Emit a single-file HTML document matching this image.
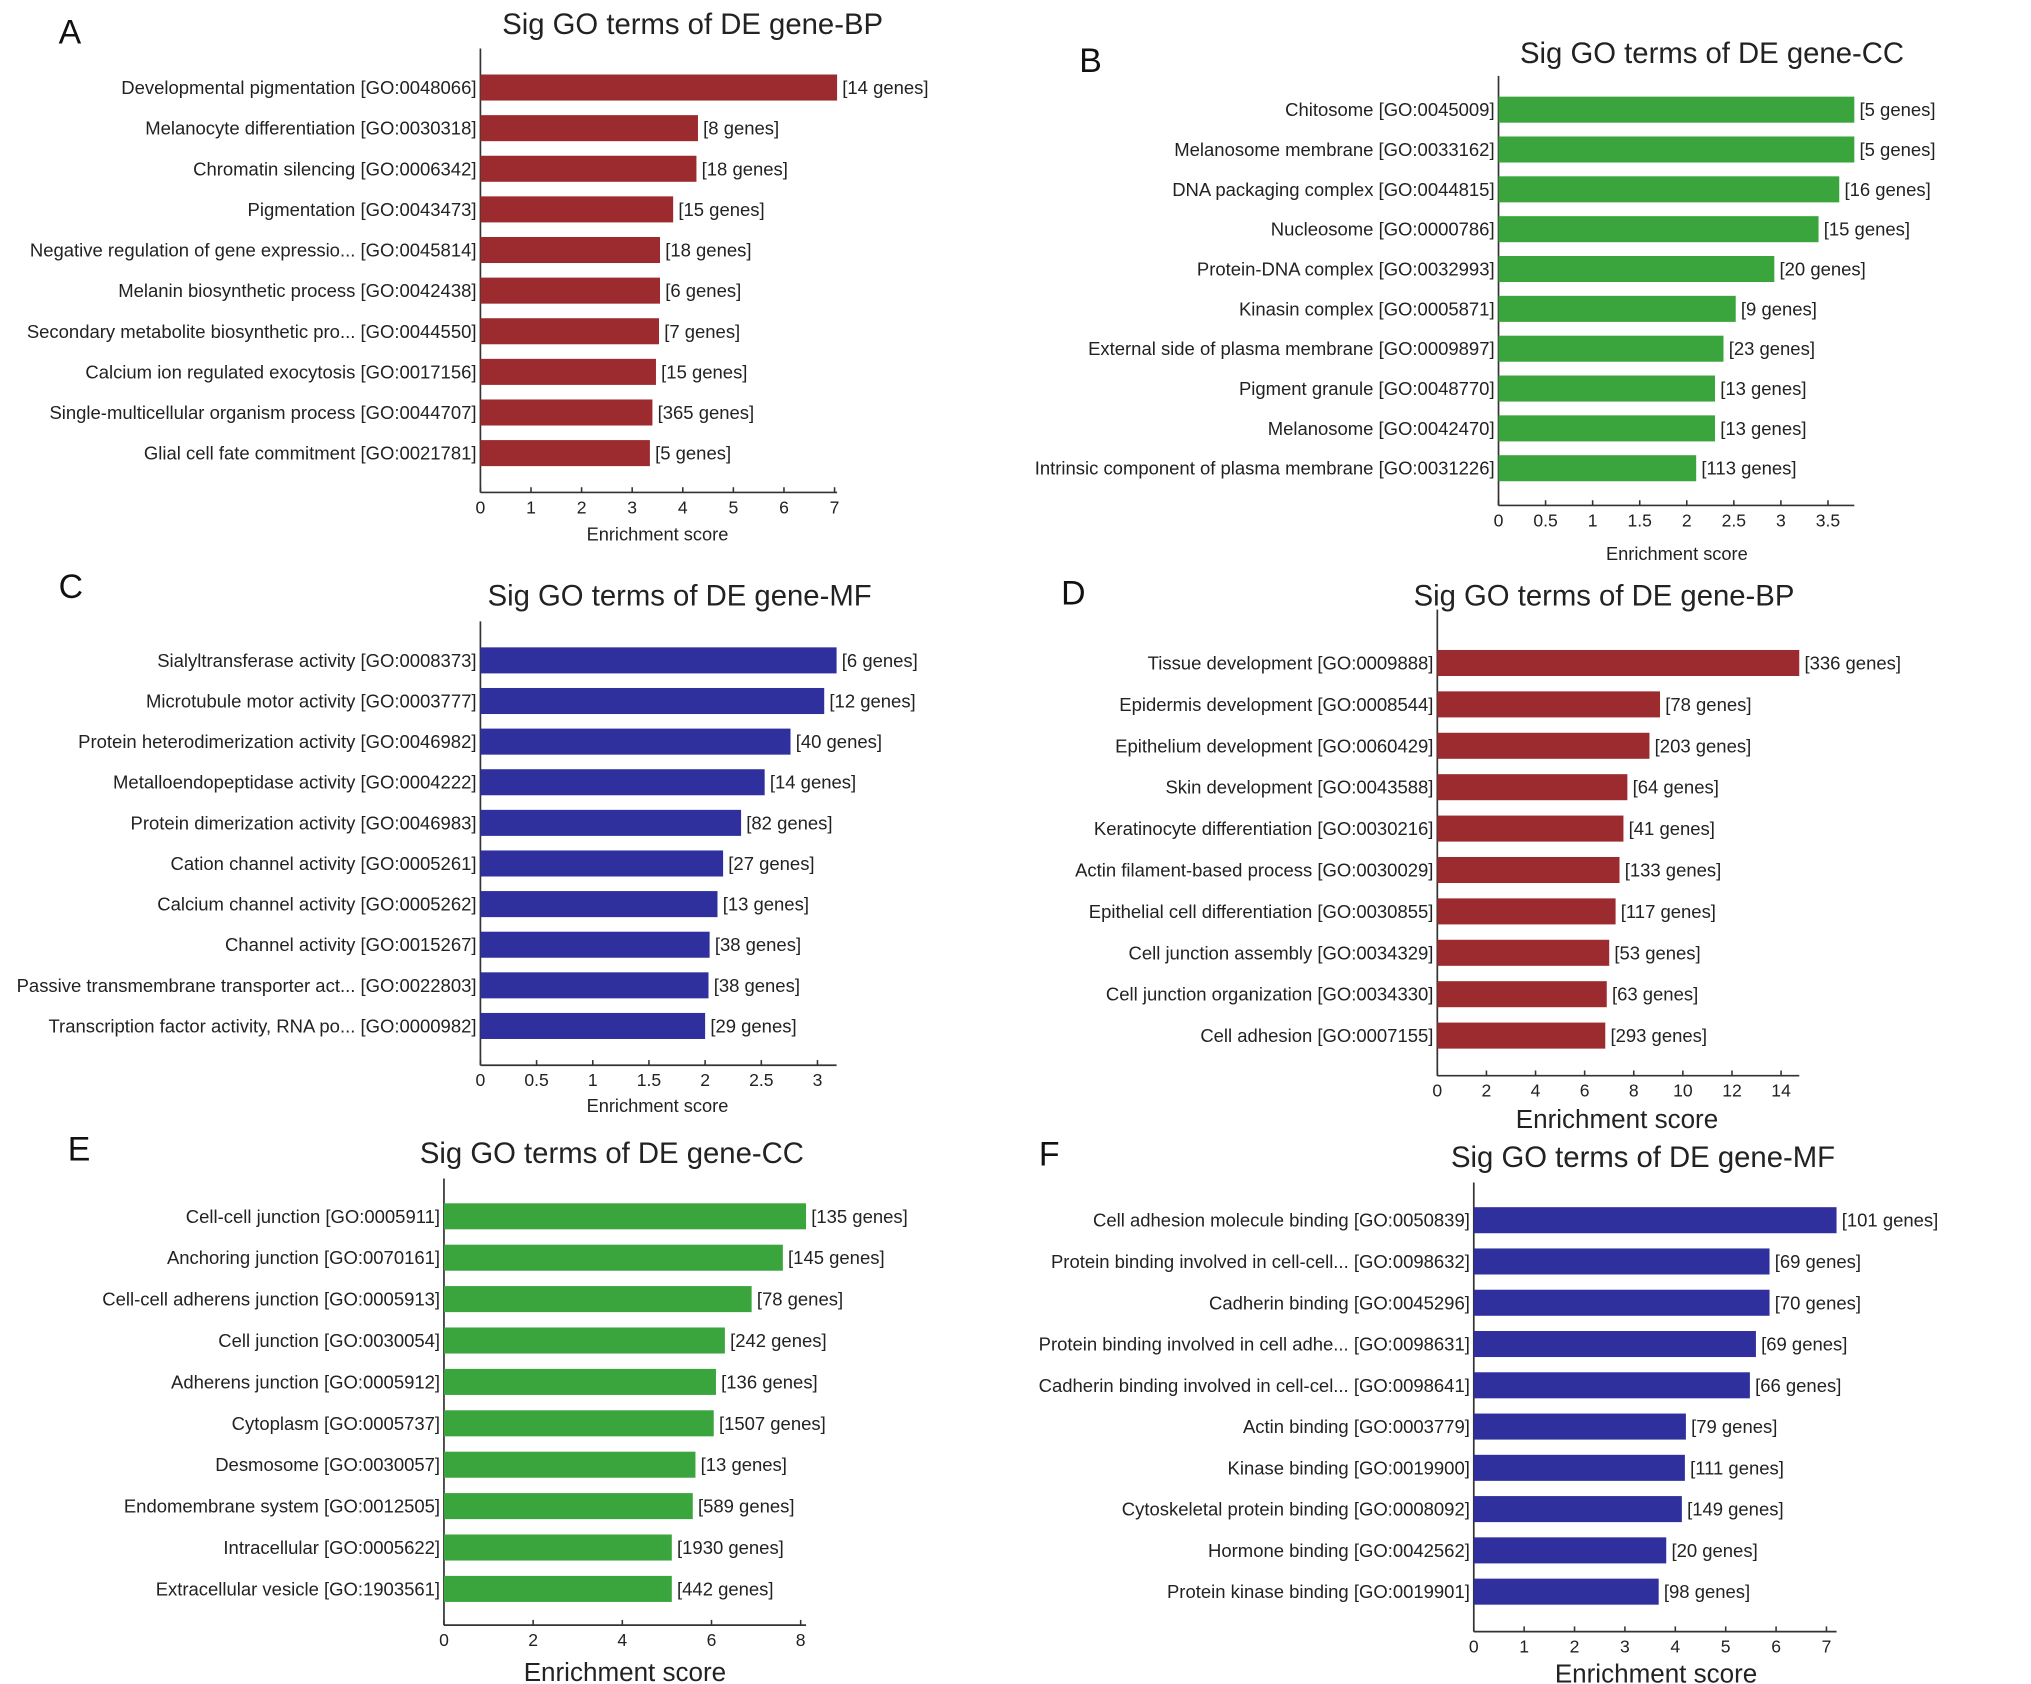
<!DOCTYPE html>
<html><head><meta charset="utf-8"><title>Sig GO terms</title>
<style>
html,body{margin:0;padding:0;background:#fff;}
svg{display:block;font-family:"Liberation Sans",Arial,sans-serif;}
</style></head>
<body>
<svg id="fig" width="2031" height="1684" viewBox="0 0 1560 1293" xmlns="http://www.w3.org/2000/svg">
<rect width="1560" height="1293" fill="#fff"/>
</svg>
<script>
// ---- Panel A data ----
const aTerms = ["Developmental pigmentation [GO:0048066]","Melanocyte differentiation [GO:0030318]","Chromatin silencing [GO:0006342]","Pigmentation [GO:0043473]","Negative regulation of gene expressio... [GO:0045814]","Melanin biosynthetic process [GO:0042438]","Secondary metabolite biosynthetic pro... [GO:0044550]","Calcium ion regulated exocytosis [GO:0017156]","Single-multicellular organism process [GO:0044707]","Glial cell fate commitment [GO:0021781]"];
const aValues = [7.05,4.30,4.27,3.81,3.55,3.55,3.53,3.47,3.40,3.35];
const aGenes = ["[14 genes]","[8 genes]","[18 genes]","[15 genes]","[18 genes]","[6 genes]","[7 genes]","[15 genes]","[365 genes]","[5 genes]"];
const aTicks = [0,1,2,3,4,5,6,7];
// ---- Panel B data ----
const bTerms = ["Chitosome [GO:0045009]","Melanosome membrane [GO:0033162]","DNA packaging complex [GO:0044815]","Nucleosome [GO:0000786]","Protein-DNA complex [GO:0032993]","Kinasin complex [GO:0005871]","External side of plasma membrane [GO:0009897]","Pigment granule [GO:0048770]","Melanosome [GO:0042470]","Intrinsic component of plasma membrane [GO:0031226]"];
const bValues = [3.78,3.78,3.62,3.40,2.93,2.52,2.39,2.30,2.30,2.10];
const bGenes = ["[5 genes]","[5 genes]","[16 genes]","[15 genes]","[20 genes]","[9 genes]","[23 genes]","[13 genes]","[13 genes]","[113 genes]"];
const bTicks = [0,0.5,1,1.5,2,2.5,3,3.5];
// ---- Panel C data ----
const cTerms = ["Sialyltransferase activity [GO:0008373]","Microtubule motor activity [GO:0003777]","Protein heterodimerization activity [GO:0046982]","Metalloendopeptidase activity [GO:0004222]","Protein dimerization activity [GO:0046983]","Cation channel activity [GO:0005261]","Calcium channel activity [GO:0005262]","Channel activity [GO:0015267]","Passive transmembrane transporter act... [GO:0022803]","Transcription factor activity, RNA po... [GO:0000982]"];
const cValues = [3.17,3.06,2.76,2.53,2.32,2.16,2.11,2.04,2.03,2.00];
const cGenes = ["[6 genes]","[12 genes]","[40 genes]","[14 genes]","[82 genes]","[27 genes]","[13 genes]","[38 genes]","[38 genes]","[29 genes]"];
const cTicks = [0,0.5,1,1.5,2,2.5,3];
// ---- Panel D data ----
const dTerms = ["Tissue development [GO:0009888]","Epidermis development [GO:0008544]","Epithelium development [GO:0060429]","Skin development [GO:0043588]","Keratinocyte differentiation [GO:0030216]","Actin filament-based process [GO:0030029]","Epithelial cell differentiation [GO:0030855]","Cell junction assembly [GO:0034329]","Cell junction organization [GO:0034330]","Cell adhesion [GO:0007155]"];
const dValues = [14.74,9.07,8.64,7.74,7.58,7.42,7.26,7.00,6.90,6.84];
const dGenes = ["[336 genes]","[78 genes]","[203 genes]","[64 genes]","[41 genes]","[133 genes]","[117 genes]","[53 genes]","[63 genes]","[293 genes]"];
const dTicks = [0,2,4,6,8,10,12,14];
// ---- Panel E data ----
const eTerms = ["Cell-cell junction [GO:0005911]","Anchoring junction [GO:0070161]","Cell-cell adherens junction [GO:0005913]","Cell junction [GO:0030054]","Adherens junction [GO:0005912]","Cytoplasm [GO:0005737]","Desmosome [GO:0030057]","Endomembrane system [GO:0012505]","Intracellular [GO:0005622]","Extracellular vesicle [GO:1903561]"];
const eValues = [8.12,7.60,6.90,6.30,6.10,6.05,5.64,5.58,5.11,5.11];
const eGenes = ["[135 genes]","[145 genes]","[78 genes]","[242 genes]","[136 genes]","[1507 genes]","[13 genes]","[589 genes]","[1930 genes]","[442 genes]"];
const eTicks = [0,2,4,6,8];
// ---- Panel F data ----
const fTerms = ["Cell adhesion molecule binding [GO:0050839]","Protein binding involved in cell-cell... [GO:0098632]","Cadherin binding [GO:0045296]","Protein binding involved in cell adhe... [GO:0098631]","Cadherin binding involved in cell-cel... [GO:0098641]","Actin binding [GO:0003779]","Kinase binding [GO:0019900]","Cytoskeletal protein binding [GO:0008092]","Hormone binding [GO:0042562]","Protein kinase binding [GO:0019901]"];
const fValues = [7.20,5.87,5.87,5.60,5.48,4.21,4.19,4.13,3.82,3.67];
const fGenes = ["[101 genes]","[69 genes]","[70 genes]","[69 genes]","[66 genes]","[79 genes]","[111 genes]","[149 genes]","[20 genes]","[98 genes]"];
const fTicks = [0,1,2,3,4,5,6,7];

const NS = "http://www.w3.org/2000/svg";
const svg = document.getElementById('fig');
function mk(tag, attrs, parent, text){
  const e = document.createElementNS(NS, tag);
  for (const k in attrs) e.setAttribute(k, attrs[k]);
  if (text !== undefined) e.textContent = text;
  parent.appendChild(e);
  return e;
}
function panel(id, letter, title, terms, values, genes, ticks, L){
  const g = mk('g', {}, svg);
  
  
  const x = v => L.x0 + v * L.unit;
  const lt = mk('text', {x:L.lx, y:L.ly, 'font-size':26, fill:'#111'}, g, letter);
  
  
  const tt = mk('text', {x:L.tx, y:L.ty, 'font-size':22.5, 'text-anchor':'middle', fill:'#222'}, g, title);
  
  
  const ya = mk('line', {x1:L.x0, x2:L.x0, y1:L.top, y2:L.bot, stroke:'#333', 'stroke-width':1.3}, g);
  
  
  const xa = mk('line', {x1:L.x0, x2:x(L.axMax), y1:L.bot, y2:L.bot, stroke:'#333', 'stroke-width':1.3}, g);
  
  
  ticks.forEach(t => {
    const tk = mk('line', {x1:x(t), x2:x(t), y1:L.bot, y2:L.bot-4, stroke:'#333', 'stroke-width':1.2}, g);
    
    
    const tl = mk('text', {x:x(t), y:L.bot+16, 'font-size':13.5, 'text-anchor':'middle', fill:'#222'}, g, String(t));
    
    
  });
  const at = mk('text', {x:L.atx, y:L.aty, 'font-size':L.afs, 'text-anchor':'middle', fill:'#222'}, g, 'Enrichment score');
  
  
  values.forEach((v, i) => {
    const cy = L.y0 + i * L.step;
    const b = mk('rect', {x:L.x0, y:cy - L.bh/2, width:Math.max(0, x(v) - L.x0), height:L.bh, fill:L.color}, g);
    
    
    const lab = mk('text', {x:L.x0 - 3, y:cy + 5, 'font-size':14.2, 'text-anchor':'end', fill:'#222'}, g, terms[i]);
    
    
    const gl = mk('text', {x:x(v) + 4, y:cy + 5, 'font-size':14.2, fill:'#222'}, g, genes[i]);
    
    
  });
}
panel('a','A','Sig GO terms of DE gene-BP',aTerms,aValues,aGenes,aTicks,
  {x0:369, unit:38.86, top:37, bot:378, axMax:7.05, y0:67, step:31.2, bh:20, color:'#9b2b2f',
   lx:45, ly:33, tx:532, ty:26, atx:505, aty:415, afs:14});
panel('b','B','Sig GO terms of DE gene-CC',bTerms,bValues,bGenes,bTicks,
  {x0:1151, unit:72.3, top:58, bot:388, axMax:3.78, y0:84, step:30.6, bh:20, color:'#3aa53c',
   lx:829, ly:55, tx:1315, ty:48, atx:1288, aty:430, afs:14});
panel('c','C','Sig GO terms of DE gene-MF',cTerms,cValues,cGenes,cTicks,
  {x0:369, unit:86.3, top:477, bot:818, axMax:3.17, y0:507, step:31.2, bh:20, color:'#2f2f9d',
   lx:45, ly:459, tx:522, ty:465, atx:505, aty:854, afs:14});
panel('d','D','Sig GO terms of DE gene-BP',dTerms,dValues,dGenes,dTicks,
  {x0:1104, unit:18.86, top:468, bot:826, axMax:14.74, y0:509, step:31.8, bh:20, color:'#9b2b2f',
   lx:815, ly:464, tx:1232, ty:465, atx:1242, aty:866, afs:20});
panel('e','E','Sig GO terms of DE gene-CC',eTerms,eValues,eGenes,eTicks,
  {x0:341, unit:34.25, top:905, bot:1248, axMax:8.12, y0:934, step:31.8, bh:20, color:'#3aa53c',
   lx:52, ly:891, tx:470, ty:893, atx:480, aty:1291, afs:20});
panel('f','F','Sig GO terms of DE gene-MF',fTerms,fValues,fGenes,fTicks,
  {x0:1132, unit:38.7, top:908, bot:1253, axMax:7.2, y0:937, step:31.7, bh:20, color:'#2f2f9d',
   lx:798, ly:895, tx:1262, ty:896, atx:1272, aty:1292, afs:20});
</script>
</body></html>
